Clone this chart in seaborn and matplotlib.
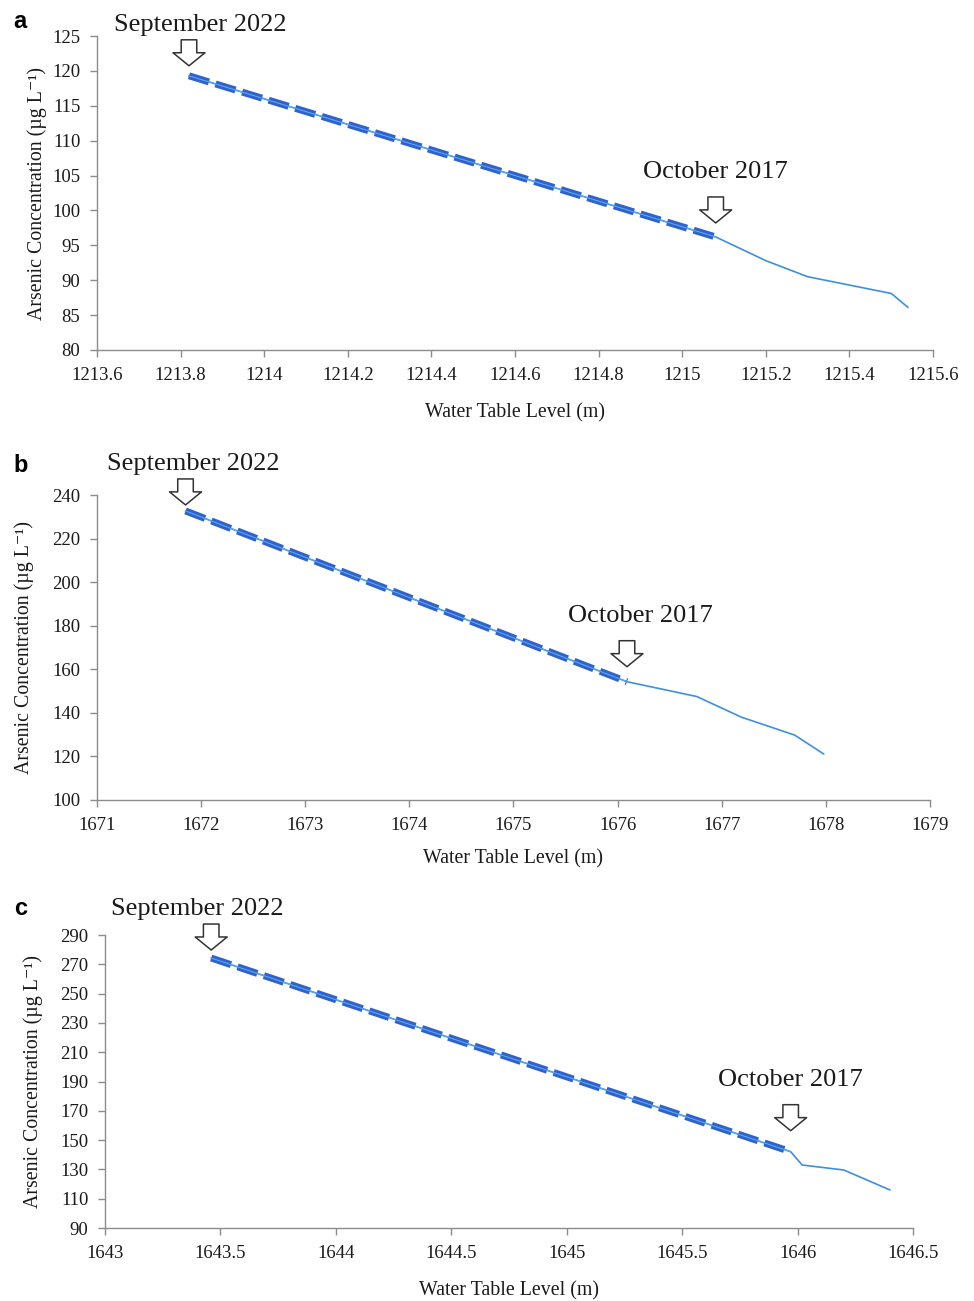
import matplotlib
matplotlib.use("Agg")
import matplotlib.pyplot as plt
from matplotlib.transforms import ScaledTranslation
from matplotlib.ticker import FuncFormatter
import numpy as np
import seaborn as sns

# panel a
a_level = [1213.82, 1215.08, 1215.20, 1215.30, 1215.50, 1215.54]
a_arsenic = [119.3, 96.2, 92.8, 90.5, 88.1, 86.1]
# panel b
b_level = [1671.85, 1676.09, 1676.76, 1677.19, 1677.70, 1677.98]
b_arsenic = [232.7, 154.3, 147.5, 138.0, 129.8, 121.1]
# panel c
c_level = [1643.46, 1645.97, 1646.02, 1646.20, 1646.40]
c_arsenic = [274.3, 142.1, 133.0, 129.6, 116.0]

start_label = "September 2022"
end_label = "October 2017"

sns.set_style("ticks")
plt.rcParams["font.family"] = ["Liberation Serif", "DejaVu Serif"]

fig = plt.figure(figsize=(9.74, 13.01), dpi=100)

GRAY = "#8c8c8c"
TXT = "#1a1a1a"


def px(v):
    return v * 0.72  # pixels -> points at 100 dpi


def mark(ax, x, y, label, tip_dy, text_dx, text_dy):
    # hollow block arrow pointing down at (x, y)
    tip = ax.transData + ScaledTranslation(0, tip_dy / 100, fig.dpi_scale_trans)
    ax.annotate("", xy=(x, y), xycoords=tip, xytext=(0, px(26)),
                textcoords="offset points",
                arrowprops=dict(arrowstyle="simple,head_length=0.47,head_width=1.15,tail_width=0.56",
                                fc="white", ec="#333333", lw=1.1,
                                shrinkA=0, shrinkB=0, mutation_scale=20),
                annotation_clip=False)
    ax.annotate(label, xy=(x, y), xytext=(px(text_dx), px(tip_dy + text_dy)),
                textcoords="offset points", ha="center", va="center",
                fontsize=19, color=TXT, annotation_clip=False)


def panel(rect, letter, letter_pos, ylab_x, xlab_y, level, arsenic,
          xlim, xstep, ylim, ystep, marks):
    ax = fig.add_axes(rect)
    sns.lineplot(x=level, y=arsenic, ax=ax, sort=False, estimator=None,
                 color="#3d8fe0", lw=1.2)
    sns.lineplot(x=level[:2], y=arsenic[:2], ax=ax, sort=False, estimator=None,
                 color="#2f62cc")
    dash = ax.lines[-1]
    dash.set_linewidth(5.0)
    dash.set_dashes((3.0, 1.0))
    dash.set_dash_capstyle("butt")
    sns.lineplot(x=level[:2], y=arsenic[:2], ax=ax, sort=False, estimator=None,
                 color="#5aa8f0", lw=0.8)
    ax.set_xlim(*xlim)
    ax.set_ylim(*ylim)
    ax.set_xticks(np.arange(xlim[0], xlim[1] + xstep / 2, xstep))
    ax.set_yticks(np.arange(ylim[0], ylim[1] + ystep / 2, ystep))
    ax.xaxis.set_major_formatter(FuncFormatter(lambda v, p: f"{round(v, 4):g}"))
    ax.yaxis.set_major_formatter(FuncFormatter(lambda v, p: f"{v:g}"))
    sns.despine(ax=ax)
    for s in ("left", "bottom"):
        ax.spines[s].set_color(GRAY)
        ax.spines[s].set_linewidth(1.0)
    ax.tick_params(direction="out", length=5, width=1, color=GRAY,
                   labelsize=13.5, labelcolor=TXT, pad=7)
    ax.set_xlabel("Water Table Level (m)", fontsize=14.3, color=TXT)
    ax.set_ylabel("Arsenic Concentration (µg L⁻¹)", fontsize=14.3, color=TXT)
    ax.xaxis.set_label_coords(0.5, xlab_y)
    ax.yaxis.set_label_coords(ylab_x, 0.5)
    ax.text(letter_pos[0], letter_pos[1], letter, transform=ax.transAxes,
            fontsize=17, fontweight="bold", family="Liberation Sans",
            color="black", ha="left", va="center")
    (s_dy, s_tx), (e_dy, e_tx) = marks
    mark(ax, level[0], arsenic[0], start_label, s_dy, s_tx, 41)
    mark(ax, level[1], arsenic[1], end_label, e_dy, e_tx, 51)
    return ax


panel([0.0996, 0.7310, 0.8584, 0.2413], "a", (-0.100, 1.045), -0.060, -0.169,
      a_level, a_arsenic, (1213.6, 1215.6), 0.2, (80, 125), 5,
      ((10, 11), (14, 0)))
panel([0.0996, 0.3851, 0.8552, 0.2344], "b", (-0.100, 1.098), -0.076, -0.161,
      b_level, b_arsenic, (1671, 1679), 1, (100, 240), 20,
      ((6, 8), (15, 13)))
panel([0.1078, 0.0561, 0.8296, 0.2252], "c", (-0.112, 1.089), -0.077, -0.181,
      c_level, c_arsenic, (1643, 1646.5), 0.5, (90, 290), 20,
      ((8, -14), (21, 0)))

fig.savefig("out.png", dpi=100)
